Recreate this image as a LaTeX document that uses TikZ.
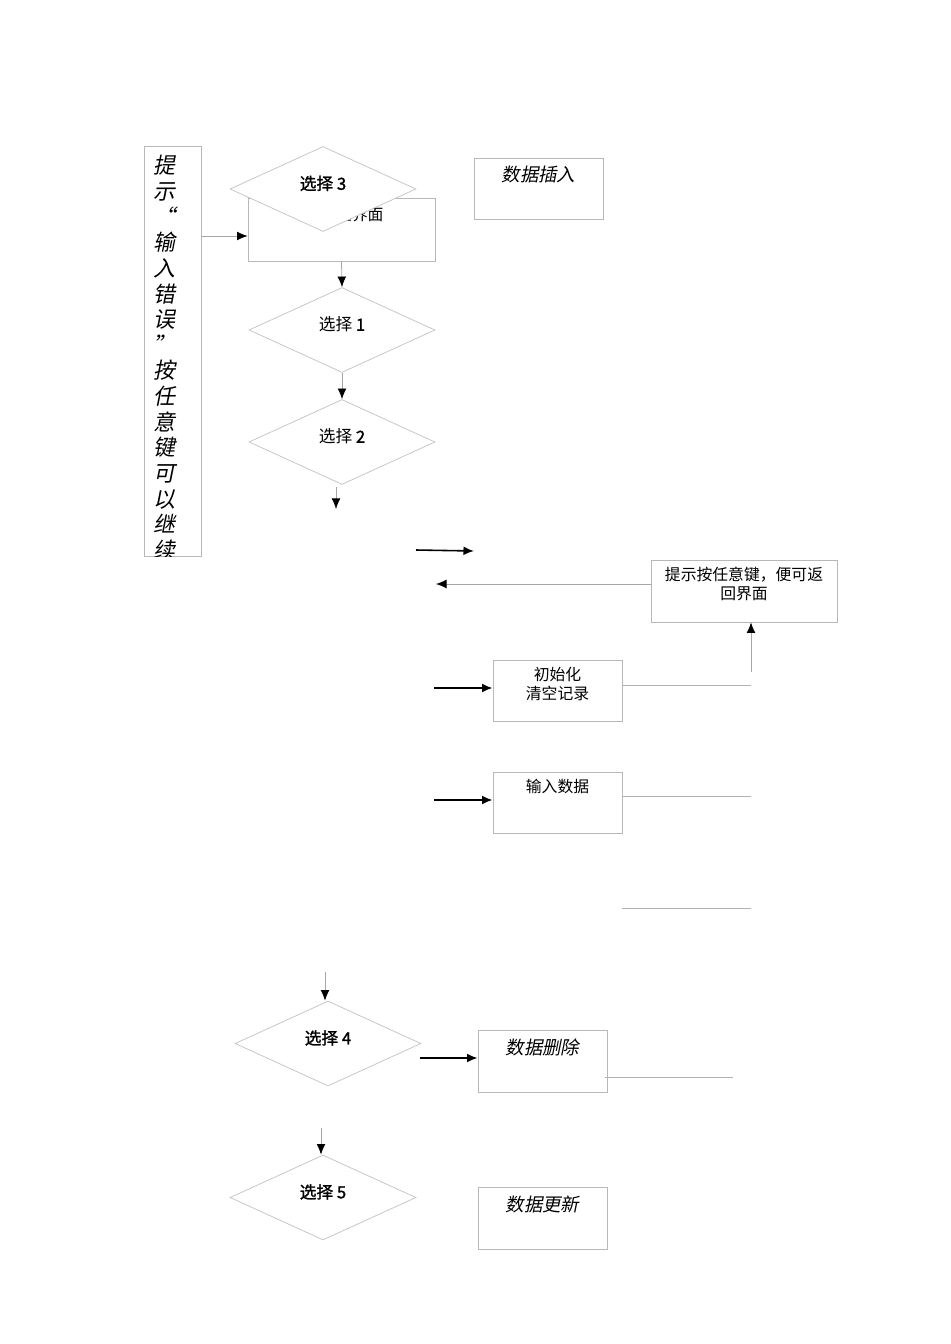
\documentclass[tikz,border=0pt]{standalone}
\usepackage{fontspec}
\newfontfamily\cjk{Noto Sans CJK SC}
\newfontfamily\cjkit{Noto Sans CJK SC}[FakeSlant=0.2]
\newfontfamily\cjkbf{Noto Sans CJK SC}[FakeBold=1.5]
\usetikzlibrary{shapes.geometric,positioning,arrows.meta}

\tikzset{
  box/.style={draw=black!28, line width=0.45pt, minimum width=2.58cm, minimum height=1.22cm, inner sep=0pt},
  choice/.style={diamond, draw=black!22, line width=0.45pt, fill=white, minimum width=3.72cm, minimum height=1.70cm, inner sep=0pt, text depth=0.25cm, font=\cjkbf\fontsize{9.5}{11}\selectfont},
  boxtext/.style={inner sep=0pt, align=center, font=\cjk\fontsize{9}{10.5}\selectfont},
  ittext/.style={inner sep=0pt, font=\cjkit\fontsize{10.5}{12}\selectfont},
  link/.style={draw=black!35, line width=0.45pt, -{Latex[color=black,length=6pt,width=5pt]}},
  push/.style={draw=black, line width=0.9pt, -{Latex[length=6pt,width=5pt]}},
  plain/.style={draw=black!30, line width=0.45pt},
}

\begin{document}
\begin{tikzpicture}[x=0.02cm, y=-0.02cm]
  \useasboundingbox (0,0) rectangle (950,1344);

  % Error prompt (vertical text)
  \node[box, minimum width=1.14cm, minimum height=8.2cm] (err) at (172.5,351) {};
  \begin{scope}
    \clip (err.south west) rectangle (err.north east);
    \node[anchor=north, inner sep=0pt, align=center,
          font=\cjkit\fontsize{12.5}{14.6}\selectfont] (errtext) at (164,155)
      {提\\示\\“\\输\\入\\错\\误\\”\\按\\任\\意\\键\\可\\以\\继\\续};
  \end{scope}

  % Main screen and choices
  \node[box, minimum width=3.74cm, minimum height=1.26cm] (main) at (341.5,229.5) {};
  \node[boxtext] (maintext) at (344,215) {显示主界面};
  \node[choice] (c3) at (323,189) {选择 3};
  \node[choice] (c1) at (342,330) {\cjk 选择 {\cjkbf 1}};
  \node[choice] (c2) at (342,442) {\cjk 选择 {\cjkbf 2}};

  % Right column boxes
  \node[box] (ins) at (538.5,188.5) {};
  \node[ittext, below=0.17cm of ins.north] {数据插入};
  \node[box, minimum width=3.72cm, minimum height=1.24cm] (hint) at (744,591) {};
  \node[boxtext, below=0.15cm of hint.north] {提示按任意键，便可返\\回界面};
  \node[box] (init) at (557.5,690.5) {};
  \node[boxtext, below=0.15cm of init.north] {初始化\\清空记录};
  \node[box] (input) at (557.5,802.5) {};
  \node[boxtext, below=0.15cm of input.north] {输入数据};

  % Lower choices
  \node[choice] (c4) at (328,1043.5) {选择 4};
  \node[box, minimum height=1.24cm] (del) at (542.5,1061) {};
  \node[ittext, below=0.17cm of del.north] {数据删除};
  \node[choice] (c5) at (323,1197.5) {选择 5};
  \node[box, minimum height=1.24cm] (upd) at (542.5,1218) {};
  \node[ittext, below=0.17cm of upd.north] {数据更新};

  % Free ends
  \coordinate (errout) at (201,236);
  \coordinate (c2out) at (336,509);
  \coordinate (p1s) at (416,550);
  \coordinate (p1e) at (474,551);
  \coordinate (ret) at (436,584);
  \coordinate (p2s) at (434,688);
  \coordinate (p3s) at (434,800);
  \coordinate (j1) at (751,685);
  \coordinate (j1u) at (751,672);
  \coordinate (j2) at (751,796);
  \coordinate (j3s) at (622,908);
  \coordinate (j3e) at (751,908);
  \coordinate (c4in) at (325,972);
  \coordinate (p4s) at (420,1058);
  \coordinate (j4) at (733,1077);
  \coordinate (c5in) at (321,1128);

  % Connectors
  \draw[link] (errout) -- (main.west |- errout);
  \draw[link] (main.south) -- (c1.north);
  \draw[link] (c1.south) -- (c2.north);
  \draw[link] (c2.south -| c2out) ++(0,2) -- (c2out);
  \draw[push] (p1s) -- (p1e);
  \draw[link] (hint.west |- ret) -- (ret);
  \draw[push] (p2s) -- (init.west |- p2s);
  \draw[plain] (init.east |- j1) -- (j1);
  \draw[link] (j1u) -- (hint.south -| j1u);
  \draw[push] (p3s) -- (input.west |- p3s);
  \draw[plain] (input.east |- j2) -- (j2);
  \draw[plain] (j3s) -- (j3e);
  \draw[link] (c4in) -- (c4in |- c4.north);
  \draw[push] (p4s) -- (del.west |- p4s);
  \draw[plain] ([xshift=-0.04cm]del.east |- j4) -- (j4);
  \draw[link] (c5in) -- (c5in |- c5.north);
\end{tikzpicture}
\end{document}
